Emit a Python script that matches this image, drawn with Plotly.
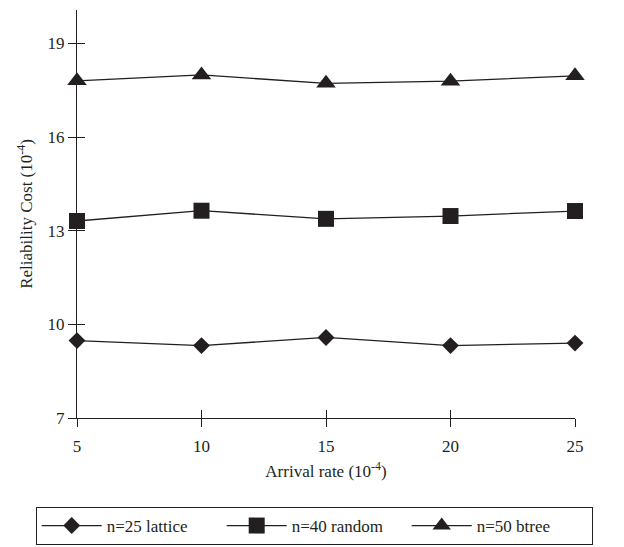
import plotly.graph_objects as go

arrival_rate = [5, 10, 15, 20, 25]
lattice_n25 = [9.48, 9.32, 9.58, 9.32, 9.40]
random_n40 = [13.31, 13.64, 13.38, 13.47, 13.63]
btree_n50 = [17.80, 17.99, 17.72, 17.79, 17.96]

x_ticks = [5, 10, 15, 20, 25]
y_ticks = [7, 10, 13, 16, 19]

INK = "#231f20"
FONT = "Liberation Serif, Times New Roman, serif"

fig = go.Figure()
series = [
    ("n=25 lattice", lattice_n25, "diamond", 13, "x", "y"),
    ("n=40 random", random_n40, "square", 16, "x", "y"),
    ("n=50 btree", btree_n50, "triangle-up", 17, "x2", "y2"),
]
for name, vals, sym, sz, xa, ya in series:
    fig.add_trace(go.Scatter(
        x=arrival_rate, y=vals, name=name, mode="lines+markers",
        line=dict(color=INK, width=1.3),
        marker=dict(symbol=sym, size=sz, color=INK),
        cliponaxis=False, xaxis=xa, yaxis=ya,
    ))

axis_common = dict(
    showgrid=False, zeroline=False,
    linecolor=INK, linewidth=1.3,
    tickcolor=INK, tickwidth=1.2, ticklen=8,
    tickfont=dict(family=FONT, size=17, color=INK),
)

H = 547
M_B = 129
gs_h = H - M_B          # plot area height with zero top margin
gs_w = 498.0
plot_left = 77.3
y_dom = [0, (gs_h - 10) / gs_h]

fig.update_layout(
    width=624, height=H,
    margin=dict(l=77, r=49, t=0, b=M_B),
    paper_bgcolor="white", plot_bgcolor="white",
    font=dict(family=FONT, size=17, color=INK),
    showlegend=True,
    xaxis=dict(range=[5, 25], tickvals=x_ticks, ticks="outside", showline=True,
               ticklabelstandoff=4,
               title=dict(text="Arrival rate (10<sup>-4</sup>)", standoff=10,
                          font=dict(family=FONT, size=17, color=INK)),
               **axis_common),
    yaxis=dict(range=[7, 20.07], domain=y_dom, tickvals=y_ticks, ticks="outside", showline=True,
               title=dict(text="Reliability Cost (10<sup>-4</sup>)", standoff=10,
                          font=dict(family=FONT, size=17, color=INK)),
               **axis_common),
    xaxis2=dict(range=[5, 25], tickvals=x_ticks, ticks="inside", overlaying="x",
                anchor="y2", side="bottom", showticklabels=False, showline=False,
                showgrid=False, zeroline=False, tickcolor=INK, tickwidth=1.2, ticklen=8),
    yaxis2=dict(range=[7, 20.07], domain=y_dom, tickvals=y_ticks, ticks="inside", overlaying="y",
                anchor="x2", side="left", showticklabels=False, showline=False,
                showgrid=False, zeroline=False, tickcolor=INK, tickwidth=1.2, ticklen=8),
    legend=dict(
        orientation="h", xref="paper", x=(36 - plot_left) / gs_w, xanchor="left",
        yref="paper", y=-(545 - gs_h) / gs_h, yanchor="bottom",
        bordercolor=INK, borderwidth=1, bgcolor="white",
        font=dict(family=FONT, size=17, color=INK),
        entrywidth=110, tracegroupgap=0, itemwidth=60,
    ),
)

fig.write_html("out.html")
